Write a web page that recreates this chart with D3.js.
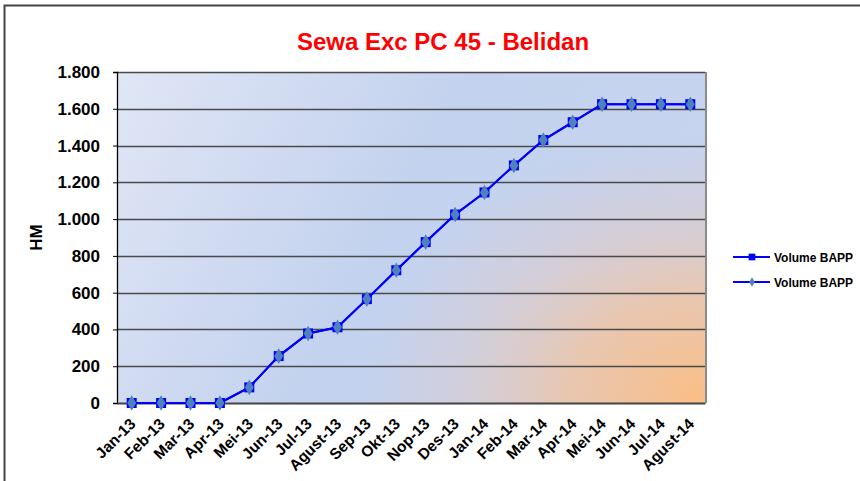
<!DOCTYPE html>
<html>
<head>
<meta charset="utf-8">
<script src="https://cdn.jsdelivr.net/npm/d3@7"></script>
<style>
  body { margin: 0; background: #fff; }
  svg text { font-family: "Liberation Sans", Arial, sans-serif; font-weight: bold; }
</style>
</head>
<body>
<script>
(function(){

    var months = ["Jan-13", "Feb-13", "Mar-13", "Apr-13", "Mei-13", "Jun-13", "Jul-13", "Agust-13",
        "Sep-13", "Okt-13", "Nop-13", "Des-13", "Jan-14", "Feb-14", "Mar-14", "Apr-14",
        "Mei-14", "Jun-14", "Jul-14", "Agust-14"];

    var volumeA = [0, 0, 0, 0, 85, 255, 378, 412, 565, 722, 875, 1025, 1145, 1292, 1430, 1527, 1625, 1625, 1625, 1625];
    var volumeB = [0, 0, 0, 0, 85, 255, 378, 412, 565, 722, 875, 1025, 1145, 1292, 1430, 1527, 1625, 1625, 1625, 1625];

    var yTicks = [0, 200, 400, 600, 800, 1000, 1200, 1400, 1600, 1800];
    var legendNames = ["Volume BAPP", "Volume BAPP"];

    var width = 860,
        height = 481;

    var margin = {left: 117, right: 155, top: 72, bottom: 78};
    var plotW = width - margin.left - margin.right,
        plotH = height - margin.top - margin.bottom;

    var svg = d3.select("body")
        .append("svg")
        .attr("width", width)
        .attr("height", height);

    var defs = svg.append("defs");

    var lin = defs.append("linearGradient")
        .attr("id", "bgLin")
        .attr("x1", "0%").attr("y1", "0%")
        .attr("x2", "100%").attr("y2", "30%");
    lin.append("stop").attr("offset", "0%").attr("stop-color", "#e0e6f5");
    lin.append("stop").attr("offset", "55%").attr("stop-color", "#c3d2ee");
    lin.append("stop").attr("offset", "100%").attr("stop-color", "#c6d4ef");

    //orange glow from the lower right corner
    var cx = plotW, cy = plotH;
    var rad = defs.append("radialGradient")
        .attr("id", "bgRad")
        .attr("gradientUnits", "userSpaceOnUse")
        .attr("cx", cx).attr("cy", cy)
        .attr("r", 340)
        .attr("gradientTransform", "translate(" + cx + "," + cy + ") scale(1,0.78) translate(" + (-cx) + "," + (-cy) + ")");
    rad.append("stop").attr("offset", "0%").attr("stop-color", "#fbbe85").attr("stop-opacity", 1);
    rad.append("stop").attr("offset", "40%").attr("stop-color", "#efc4a4").attr("stop-opacity", 0.85);
    rad.append("stop").attr("offset", "75%").attr("stop-color", "#e4c8c0").attr("stop-opacity", 0.35);
    rad.append("stop").attr("offset", "100%").attr("stop-color", "#e4c8c0").attr("stop-opacity", 0);

    // outer frame (right and bottom are outside the view)
    svg.append("path")
        .attr("d", "M4.5," + height + " V5.5 H" + width)
        .attr("fill", "none")
        .attr("stroke", "#444")
        .attr("stroke-width", 2);

    svg.append("text")
        .attr("x", 443)
        .attr("y", 50)
        .attr("text-anchor", "middle")
        .attr("fill", "#ff0000")
        .style("font-size", "24px")
        .text("Sewa Exc PC 45 - Belidan");

    var g = svg.append("g")
        .attr("transform", "translate(" + margin.left + "," + margin.top + ")");

    g.append("rect")
        .attr("width", plotW).attr("height", plotH)
        .attr("fill", "url(#bgLin)");
    g.append("rect")
        .attr("width", plotW).attr("height", plotH)
        .attr("fill", "url(#bgRad)");

    var x = d3.scaleBand()
        .domain(months)
        .range([0, plotW]);

    var y = d3.scaleLinear()
        .domain([0, 1800])
        .range([plotH, 0]);

    // gridlines
    g.selectAll(".grid")
        .data(yTicks.slice(1))
        .enter()
        .append("line")
        .attr("class", "grid")
        .attr("x1", 0).attr("x2", plotW)
        .attr("y1", function(d){ return Math.round(y(d)) + 0.5; })
        .attr("y2", function(d){ return Math.round(y(d)) + 0.5; })
        .attr("stroke", "#4a4a4a")
        .attr("stroke-width", 1.3);

    // right border of plot
    g.append("line")
        .attr("x1", plotW + 1).attr("x2", plotW + 1)
        .attr("y1", 0).attr("y2", plotH)
        .attr("stroke", "#8a8a8a")
        .attr("stroke-width", 2);

    var yAxis = g.append("g")
        .call(d3.axisLeft(y).tickValues(yTicks).tickSize(4).tickFormat(function(d){
            return d3.format(",")(d).replace(/,/g, ".");
        }));
    yAxis.select(".domain").attr("stroke", "#000").attr("stroke-width", 1.3);
    yAxis.selectAll("text")
        .attr("x", -17)
        .attr("fill", "#000")
        .style("font-size", "17px");

    var xAxis = g.append("g")
        .attr("transform", "translate(0," + plotH + ")")
        .call(d3.axisBottom(x).tickSize(0));
    xAxis.select(".domain").attr("stroke", "#444").attr("stroke-width", 2);
    xAxis.selectAll("text")
        .attr("fill", "#000")
        .style("font-size", "15.5px")
        .attr("text-anchor", "end")
        .attr("transform", "translate(1,18) rotate(-45)")
        .attr("dy", "0.35em")
        .attr("y", 0);

    g.append("text")
        .attr("transform", "translate(-75," + (plotH / 2) + ") rotate(-90)")
        .attr("text-anchor", "middle")
        .attr("fill", "#000")
        .style("font-size", "17px")
        .text("HM");

    var line = d3.line()
        .x(function(d, i){ return x(months[i]) + x.bandwidth() / 2; })
        .y(function(d){ return y(d); });

    g.append("path")
        .datum(volumeA)
        .attr("d", line)
        .attr("fill", "none")
        .attr("stroke", "#0000ff")
        .attr("stroke-width", 2);

    g.append("path")
        .datum(volumeB)
        .attr("d", line)
        .attr("fill", "none")
        .attr("stroke", "#0000ff")
        .attr("stroke-width", 2);

    var square = d3.symbol().type(d3.symbolSquare).size(100);
    var diamond = d3.symbol().type(d3.symbolDiamond).size(70);

    g.selectAll(".sq")
        .data(volumeA)
        .enter()
        .append("path")
        .attr("class", "sq")
        .attr("d", square)
        .attr("transform", function(d, i){
            return "translate(" + (x(months[i]) + x.bandwidth() / 2) + "," + y(d) + ")";
        })
        .attr("fill", "#0000ff");

    g.selectAll(".dm")
        .data(volumeB)
        .enter()
        .append("path")
        .attr("class", "dm")
        .attr("d", diamond)
        .attr("transform", function(d, i){
            return "translate(" + (x(months[i]) + x.bandwidth() / 2) + "," + y(d) + ")";
        })
        .attr("fill", "#4f81bd");

    // legend
    var legend = svg.append("g")
        .attr("transform", "translate(733,257)");
    legendNames.forEach(function(name, i){
        var row = legend.append("g").attr("transform", "translate(0," + (i * 25) + ")");
        row.append("line")
            .attr("x1", 0).attr("x2", 37)
            .attr("y1", 0).attr("y2", 0)
            .attr("stroke", "#0000ff")
            .attr("stroke-width", 2);
        row.append("path")
            .attr("d", i === 0 ? d3.symbol().type(d3.symbolSquare).size(45)() : d3.symbol().type(d3.symbolDiamond).size(25)())
            .attr("transform", "translate(19,0)")
            .attr("fill", i === 0 ? "#0000ff" : "#4f81bd");
        row.append("text")
            .attr("x", 41)
            .attr("y", 4.5)
            .attr("fill", "#000")
            .style("font-size", "12px")
            .text(name);
    });

})()
</script>
</body>
</html>
